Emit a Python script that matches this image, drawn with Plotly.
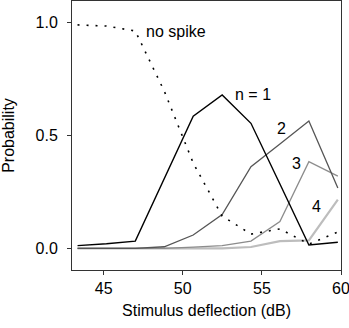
import plotly.graph_objects as go

# Stimulus deflection (dB)
x_db = [43.35, 45.18, 47.0, 48.83, 50.66, 52.49, 54.31, 56.14, 57.97, 59.8]

p_no_spike = [0.99, 0.985, 0.963, 0.697, 0.378, 0.143, 0.063, 0.086, 0.019, 0.072]
p_n1 = [0.012, 0.02, 0.032, 0.31, 0.586, 0.68, 0.554, 0.285, 0.015, 0.027]
p_n2 = [0.0, 0.0, 0.0, 0.007, 0.059, 0.15, 0.362, 0.462, 0.564, 0.267]
p_n3 = [0.0, 0.0, 0.0, 0.0, 0.005, 0.012, 0.032, 0.119, 0.384, 0.32]
p_n4 = [0.0, 0.0, 0.0, 0.0, 0.0, 0.0, 0.006, 0.032, 0.035, 0.216]

x_ticks = [45, 50, 55, 60]
y_ticks = [0.0, 0.5, 1.0]
y_tick_labels = ["0.0", "0.5", "1.0"]

FONT = "Liberation Sans, Arial, Helvetica, sans-serif"

fig = go.Figure()
fig.add_trace(go.Scatter(x=x_db, y=p_n4, mode="lines",
                         line=dict(color="#bdbdbd", width=2.2)))
fig.add_trace(go.Scatter(x=x_db, y=p_n3, mode="lines",
                         line=dict(color="#8c8c8c", width=1.3)))
fig.add_trace(go.Scatter(x=x_db, y=p_n2, mode="lines",
                         line=dict(color="#555555", width=1.3)))
fig.add_trace(go.Scatter(x=x_db, y=p_n1, mode="lines",
                         line=dict(color="#000000", width=1.4)))
fig.add_trace(go.Scatter(x=x_db, y=p_no_spike, mode="lines",
                         line=dict(color="#000000", width=1.6, dash="2px,7px")))

ann_font = dict(family=FONT, size=16, color="#000")
annotations = [
    dict(x=47.57, y=0.96, text="no spike", xanchor="left", yanchor="middle"),
    dict(x=54.41, y=0.68, text="n = 1", xanchor="center", yanchor="middle"),
    dict(x=56.27, y=0.533, text="2", xanchor="center", yanchor="middle"),
    dict(x=57.19, y=0.378, text="3", xanchor="center", yanchor="middle"),
    dict(x=58.47, y=0.184, text="4", xanchor="center", yanchor="middle"),
]
for a in annotations:
    a.update(showarrow=False, font=ann_font, xref="x", yref="y")

fig.update_layout(
    width=349, height=328,
    margin=dict(l=72, r=8, t=1, b=58),
    paper_bgcolor="white", plot_bgcolor="white",
    showlegend=False,
    font=dict(family=FONT, size=16, color="#000"),
    annotations=annotations,
    xaxis=dict(
        range=[43.0, 60.0], tickvals=x_ticks,
        ticks="outside", ticklen=4, tickwidth=1, tickcolor="#333",
        showline=True, linecolor="#333", linewidth=1, mirror=True,
        showgrid=False, zeroline=False, automargin=False,
        ticklabeloverflow="allow",
        tickfont=dict(family=FONT, size=16),
        title=dict(text="Stimulus deflection (dB)", standoff=8,
                   font=dict(family=FONT, size=16)),
    ),
    yaxis=dict(
        range=[-0.096, 1.096], tickvals=y_ticks, ticktext=y_tick_labels,
        ticks="outside", ticklen=4, tickwidth=1, tickcolor="#333",
        showline=True, linecolor="#333", linewidth=1, mirror=True,
        showgrid=False, zeroline=False, automargin=False,
        ticklabelstandoff=6,
        tickfont=dict(family=FONT, size=16),
        title=dict(text="Probability", standoff=16,
                   font=dict(family=FONT, size=16)),
    ),
)

fig.write_html(
    "out.html",
    config={"displayModeBar": False},
    post_script="document.body.style.margin='0';document.body.style.padding='0';",
)
